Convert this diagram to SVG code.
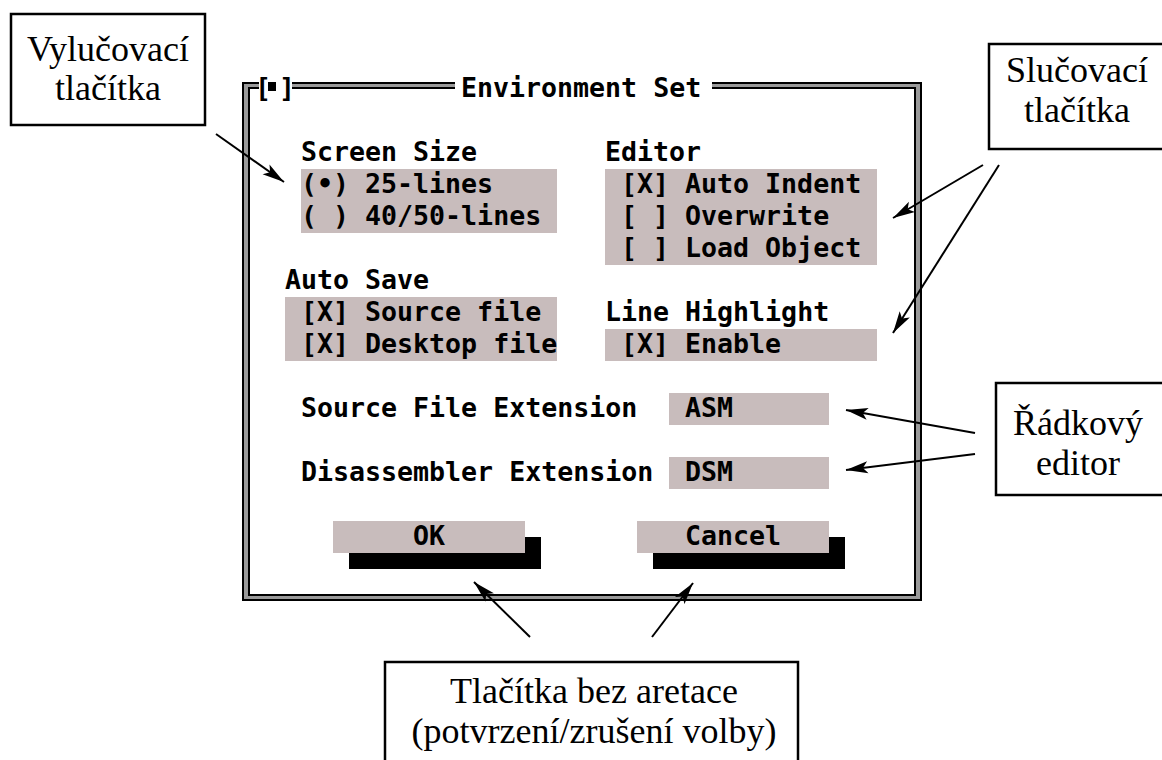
<svg xmlns="http://www.w3.org/2000/svg" width="1162" height="760" viewBox="0 0 1162 760">
  <style>
    .dos { font-family: "DejaVu Sans Mono", "Liberation Mono", monospace; font-size: 26.6px; font-weight: bold; fill: #000; }
    .field { fill: #c8bcbc; }
    .shadow { fill: #000; }
    .note { fill: #fff; stroke: #000; stroke-width: 2.5; }
    .noteText { font-family: "Liberation Serif", "Times New Roman", serif; font-size: 36px; fill: #000; text-anchor: middle; }
    .frameBlack { fill: none; stroke: #000; stroke-width: 2; }
    .frameGray { fill: none; stroke: #9a9a9a; stroke-width: 4; }
    .arrow { fill: none; stroke: #000; stroke-width: 2; marker-end: url(#head); }
  </style>
  <defs>
    <marker id="head" markerUnits="userSpaceOnUse" markerWidth="24" markerHeight="14" refX="22" refY="7" orient="auto">
      <path d="M0,1 L22,7 L0,13 L5,7 Z" fill="#000"/>
    </marker>
  </defs>

  <rect x="0" y="0" width="1162" height="760" fill="#fff"/>

  <!-- Dialog window: double-line frame with title -->
  <g id="dialog">
    <path class="frameGray" d="M259,85.5 H246 V597.5 H918 V85.5 H712 M455,85.5 H292"/>
    <path class="frameBlack" d="M259,83 H243 V600 H921 V83 H712 M455,83 H292"/>
    <path class="frameBlack" d="M259,88 H249 V595 H915 V88 H712 M455,88 H292"/>
    <text class="dos" x="255" y="97">[</text>
    <rect x="268" y="82" width="8" height="9" fill="#000"/>
    <text class="dos" x="279" y="97">]</text>
    <text class="dos" x="461" y="97">Environment Set</text>
  </g>

  <!-- Screen Size radio buttons -->
  <g id="screen-size">
    <text class="dos" x="301" y="161">Screen Size</text>
    <rect class="field" x="301" y="169" width="256" height="64"/>
    <text class="dos" x="301" y="193">(•) 25-lines</text>
    <text class="dos" x="301" y="225">( ) 40/50-lines</text>
  </g>

  <!-- Editor check boxes -->
  <g id="editor">
    <text class="dos" x="605" y="161">Editor</text>
    <rect class="field" x="605" y="169" width="272" height="96"/>
    <text class="dos" x="621" y="193">[X] Auto Indent</text>
    <text class="dos" x="621" y="225">[ ] Overwrite</text>
    <text class="dos" x="621" y="257">[ ] Load Object</text>
  </g>

  <!-- Auto Save check boxes -->
  <g id="auto-save">
    <text class="dos" x="285" y="289">Auto Save</text>
    <rect class="field" x="285" y="297" width="272" height="64"/>
    <text class="dos" x="301" y="321">[X] Source file</text>
    <text class="dos" x="301" y="353">[X] Desktop file</text>
  </g>

  <!-- Line Highlight check box -->
  <g id="line-highlight">
    <text class="dos" x="605" y="321">Line Highlight</text>
    <rect class="field" x="605" y="329" width="272" height="32"/>
    <text class="dos" x="621" y="353">[X] Enable</text>
  </g>

  <!-- Input lines -->
  <g id="source-ext">
    <text class="dos" x="301" y="417">Source File Extension</text>
    <rect class="field" x="669" y="393" width="160" height="32"/>
    <text class="dos" x="685" y="417">ASM</text>
  </g>
  <g id="disasm-ext">
    <text class="dos" x="301" y="481">Disassembler Extension</text>
    <rect class="field" x="669" y="457" width="160" height="32"/>
    <text class="dos" x="685" y="481">DSM</text>
  </g>

  <!-- Push buttons with shadow -->
  <g id="ok-button">
    <rect class="shadow" x="349" y="537" width="192" height="32"/>
    <rect class="field" x="333" y="521" width="192" height="32"/>
    <text class="dos" x="413" y="545">OK</text>
  </g>
  <g id="cancel-button">
    <rect class="shadow" x="653" y="537" width="192" height="32"/>
    <rect class="field" x="637" y="521" width="192" height="32"/>
    <text class="dos" x="685" y="545">Cancel</text>
  </g>

  <!-- Callout boxes -->
  <g id="note-radio">
    <rect class="note" x="11" y="14" width="194" height="111"/>
    <text class="noteText" x="108" y="61">Vylučovací</text>
    <text class="noteText" x="108" y="100">tlačítka</text>
  </g>
  <g id="note-check">
    <rect class="note" x="989" y="44" width="185" height="105"/>
    <text class="noteText" x="1077" y="82">Slučovací</text>
    <text class="noteText" x="1077" y="122">tlačítka</text>
  </g>
  <g id="note-input">
    <rect class="note" x="996" y="383" width="180" height="112"/>
    <text class="noteText" x="1078" y="435">Řádkový</text>
    <text class="noteText" x="1078" y="475">editor</text>
  </g>
  <g id="note-buttons">
    <rect class="note" x="385" y="662" width="413" height="110"/>
    <text class="noteText" x="594" y="703">Tlačítka bez aretace</text>
    <text class="noteText" x="594" y="743">(potvrzení/zrušení volby)</text>
  </g>

  <!-- Connectors -->
  <g id="connectors">
    <line class="arrow" x1="216" y1="134" x2="284" y2="182"/>
    <line class="arrow" x1="983" y1="165" x2="893" y2="218"/>
    <line class="arrow" x1="999" y1="165" x2="893" y2="333"/>
    <line class="arrow" x1="975" y1="433" x2="846" y2="410"/>
    <line class="arrow" x1="975" y1="454" x2="846" y2="470"/>
    <line class="arrow" x1="530" y1="637" x2="474" y2="582"/>
    <line class="arrow" x1="652" y1="637" x2="693" y2="583"/>
  </g>
</svg>
